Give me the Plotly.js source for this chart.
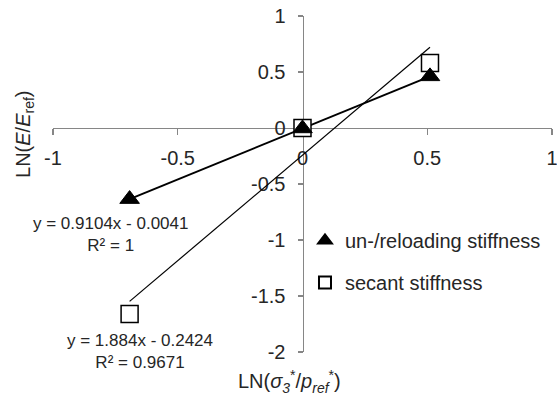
<!DOCTYPE html>
<html>
<head>
<meta charset="utf-8">
<script src="https://cdn.plot.ly/plotly-3.0.1.min.js"></script>
<style>html,body{margin:0;padding:0;background:#fff;}#chart{width:557px;height:396px;}</style>
</head>
<body>
<div id="chart"></div>
<script>
// Data
const seriesNames = ["un-/reloading stiffness", "secant stiffness"];
const xUnload = [-0.693, 0, 0.511];
const yUnload = [-0.635, -0.004, 0.461];
const xSecant = [-0.693, 0, 0.511];
const ySecant = [-1.66, 0, 0.58];
// Linear trendline coefficients shown on the chart
const slopes = [0.9104, 1.884];
const intercepts = [-0.0041, -0.2424];
const rSquared = ["1", "0.9671"];
const xTickVals = [-1, -0.5, 0, 0.5, 1];
const xTickText = ["-1", "-0.5", "0", "0.5", "1"];
const yTickVals = [-2, -1.5, -1, -0.5, 0, 0.5, 1];
const yTickText = ["-2", "-1.5", "-1", "-0.5", "0", "0.5", "1"];

function trend(xs, i) {
  const x0 = Math.min(...xs), x1 = Math.max(...xs);
  return { x: [x0, x1], y: [slopes[i] * x0 + intercepts[i], slopes[i] * x1 + intercepts[i]] };
}
function eqText(i) {
  const b = intercepts[i];
  return "y = " + slopes[i] + "x " + (b < 0 ? "- " : "+ ") + Math.abs(b) + "<br>R² = " + rSquared[i];
}

const t1 = trend(xUnload, 0), t2 = trend(xSecant, 1);
const FONT = "Liberation Sans, Arial, sans-serif";
const TXT = "#262626";
const AX = "#868686";

const traces = [
  { x: t1.x, y: t1.y, mode: "lines", line: { color: "#000", width: 2 }, showlegend: false, hoverinfo: "skip" },
  { x: t2.x, y: t2.y, mode: "lines", line: { color: "#000", width: 1.2 }, showlegend: false, hoverinfo: "skip" },
  { x: xSecant, y: ySecant, mode: "markers", name: seriesNames[1], legendgroup: "b", legendrank: 2,
    marker: { symbol: "square", size: 17, color: "#fff", line: { color: "#000", width: 1.5 } } },
  { x: xUnload, y: yUnload, mode: "markers", name: seriesNames[0], legendgroup: "a", legendrank: 1,
    marker: { symbol: "triangle-up", size: 17, color: "#000", line: { color: "#000", width: 1 } } }
];

const layout = {
  width: 557, height: 396,
  margin: { l: 53, r: 5, t: 16, b: 44, pad: 0 },
  paper_bgcolor: "#fff", plot_bgcolor: "#fff",
  font: { family: FONT, size: 20, color: TXT },
  xaxis: {
    range: [-1, 1], anchor: "free", position: 2 / 3,
    tickvals: xTickVals, ticktext: xTickText,
    showline: true, linecolor: AX, linewidth: 1.3,
    ticks: "outside", ticklen: 6, tickcolor: AX, tickwidth: 1.3,
    showgrid: false, zeroline: false, ticklabelstandoff: 6, ticklabeloverflow: "allow",
    tickfont: { family: FONT, size: 20, color: TXT }, layer: "below traces"
  },
  yaxis: {
    range: [-2, 1], anchor: "free", position: 0.5,
    tickvals: yTickVals, ticktext: yTickText,
    showline: true, linecolor: AX, linewidth: 1.3,
    ticks: "outside", ticklen: 5, tickcolor: AX, tickwidth: 1.3,
    showgrid: false, zeroline: false, ticklabelstandoff: 8, ticklabeloverflow: "allow",
    tickfont: { family: FONT, size: 20, color: TXT }, layer: "below traces"
  },
  showlegend: true,
  legend: {
    x: 0.505, xanchor: "left", y: 0.39, yanchor: "top",
    font: { family: FONT, size: 20, color: TXT },
    itemsizing: "constant", traceorder: "grouped", tracegroupgap: 13,
    bgcolor: "rgba(0,0,0,0)"
  },
  annotations: [
    { text: "LN(<i>E</i>/<i>E</i><sub>ref</sub>)", textangle: -90, xref: "paper", yref: "paper",
      x: -0.056, y: 0.649, xanchor: "center", yanchor: "middle", showarrow: false,
      font: { family: FONT, size: 20, color: TXT } },
    { text: "LN(<i>σ</i><sub><i>3</i></sub><sup>*</sup>/<i>p</i><sub><i>ref</i></sub><sup>*</sup>)",
      xref: "paper", yref: "paper", x: 0.473, y: -0.089, xanchor: "center", yanchor: "middle",
      showarrow: false, font: { family: FONT, size: 20, color: TXT } },
    { text: eqText(0), xref: "x", yref: "y", x: -0.771, y: -0.954, xanchor: "center", yanchor: "middle",
      showarrow: false, align: "center", font: { family: FONT, size: 17, color: TXT } },
    { text: eqText(1), xref: "x", yref: "y", x: -0.651, y: -1.994, xanchor: "center", yanchor: "middle",
      showarrow: false, align: "center", font: { family: FONT, size: 17, color: TXT } }
  ]
};

Plotly.newPlot("chart", traces, layout, { staticPlot: true, displayModeBar: false });
</script>
</body>
</html>
